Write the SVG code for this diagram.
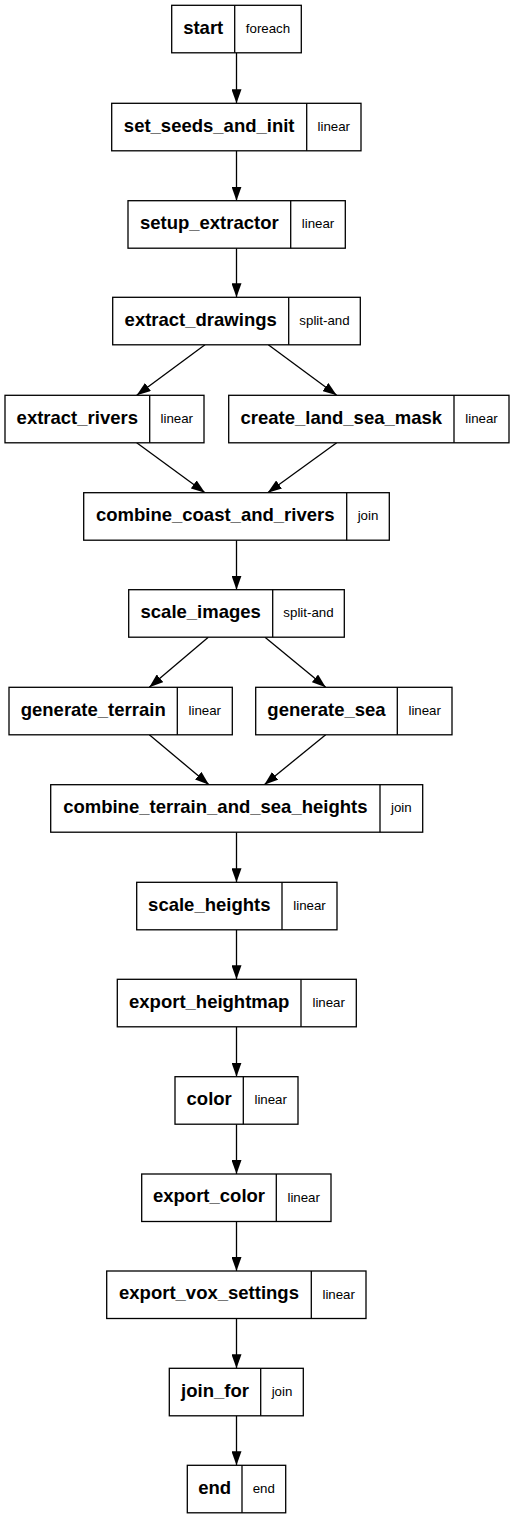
<svg xmlns="http://www.w3.org/2000/svg" width="514" height="1520" viewBox="0 0 514 1520">
<defs>
<style>
.box{fill:#fff;stroke:#000;stroke-width:1.3}
.div{stroke:#000;stroke-width:1.3}
.n{font-family:"Liberation Sans",Arial,sans-serif;font-weight:bold;font-size:18.5px;text-anchor:middle;fill:#000}
.t{font-family:"Liberation Sans",Arial,sans-serif;font-size:13.3px;text-anchor:middle;fill:#000}
.e{fill:none;stroke:#000;stroke-width:1.3}
</style>
<marker id="ah" viewBox="0 0 14 10" refX="14" refY="5" markerWidth="14" markerHeight="10" markerUnits="userSpaceOnUse" orient="auto">
<path d="M0,0 L14,5 L0,10 z" fill="#000"/>
</marker>
</defs>
<rect width="514" height="1520" fill="#fff"/>
<g id="edges">
<line class="e" x1="236.5" y1="52.8" x2="236.5" y2="103.3" marker-end="url(#ah)"/>
<line class="e" x1="236.5" y1="150.8" x2="236.5" y2="200.7" marker-end="url(#ah)"/>
<line class="e" x1="236.5" y1="248.2" x2="236.5" y2="297.3" marker-end="url(#ah)"/>
<line class="e" x1="205" y1="344.8" x2="136.7" y2="395.3" marker-end="url(#ah)"/>
<line class="e" x1="268.3" y1="344.8" x2="336.7" y2="395.3" marker-end="url(#ah)"/>
<line class="e" x1="136.7" y1="442.8" x2="205" y2="492.7" marker-end="url(#ah)"/>
<line class="e" x1="336.7" y1="442.8" x2="267.7" y2="492.7" marker-end="url(#ah)"/>
<line class="e" x1="236.5" y1="540.2" x2="236.5" y2="589.7" marker-end="url(#ah)"/>
<line class="e" x1="208.3" y1="637.2" x2="149.3" y2="687.3" marker-end="url(#ah)"/>
<line class="e" x1="265" y1="637.2" x2="325.7" y2="687.3" marker-end="url(#ah)"/>
<line class="e" x1="149.3" y1="734.8" x2="209" y2="784.7" marker-end="url(#ah)"/>
<line class="e" x1="325.7" y1="734.8" x2="264.3" y2="784.7" marker-end="url(#ah)"/>
<line class="e" x1="236.5" y1="832.2" x2="236.5" y2="882.3" marker-end="url(#ah)"/>
<line class="e" x1="236.5" y1="929.8" x2="236.5" y2="979.3" marker-end="url(#ah)"/>
<line class="e" x1="236.5" y1="1026.8" x2="236.5" y2="1076.7" marker-end="url(#ah)"/>
<line class="e" x1="236.5" y1="1124.2" x2="236.5" y2="1174" marker-end="url(#ah)"/>
<line class="e" x1="236.5" y1="1221.5" x2="236.5" y2="1271" marker-end="url(#ah)"/>
<line class="e" x1="236.5" y1="1318.5" x2="236.5" y2="1368.3" marker-end="url(#ah)"/>
<line class="e" x1="236.5" y1="1415.8" x2="236.5" y2="1465.3" marker-end="url(#ah)"/>
</g>
<g id="start"><rect class="box" x="171.7" y="5.3" width="129.6" height="47.5"/><line class="div" x1="234.7" y1="5.3" x2="234.7" y2="52.8"/><text class="n" x="203.2" y="33.5">start</text><text class="t" x="268" y="33">foreach</text></g>
<g id="set_seeds_and_init"><rect class="box" x="111.7" y="103.3" width="249.3" height="47.5"/><line class="div" x1="306.7" y1="103.3" x2="306.7" y2="150.8"/><text class="n" x="209.2" y="131.5">set_seeds_and_init</text><text class="t" x="333.8" y="131">linear</text></g>
<g id="setup_extractor"><rect class="box" x="128" y="200.7" width="217.3" height="47.5"/><line class="div" x1="290.7" y1="200.7" x2="290.7" y2="248.2"/><text class="n" x="209.3" y="228.9">setup_extractor</text><text class="t" x="318" y="228.4">linear</text></g>
<g id="extract_drawings"><rect class="box" x="112.7" y="297.3" width="247.6" height="47.5"/><line class="div" x1="288.7" y1="297.3" x2="288.7" y2="344.8"/><text class="n" x="200.7" y="325.5">extract_drawings</text><text class="t" x="324.5" y="325">split-and</text></g>
<g id="extract_rivers"><rect class="box" x="5" y="395.3" width="199" height="47.5"/><line class="div" x1="149.7" y1="395.3" x2="149.7" y2="442.8"/><text class="n" x="77.3" y="423.5">extract_rivers</text><text class="t" x="176.8" y="423">linear</text></g>
<g id="create_land_sea_mask"><rect class="box" x="228.7" y="395.3" width="280.3" height="47.5"/><line class="div" x1="454" y1="395.3" x2="454" y2="442.8"/><text class="n" x="341.3" y="423.5">create_land_sea_mask</text><text class="t" x="481.5" y="423">linear</text></g>
<g id="combine_coast_and_rivers"><rect class="box" x="83.7" y="492.7" width="305.6" height="47.5"/><line class="div" x1="346.7" y1="492.7" x2="346.7" y2="540.2"/><text class="n" x="215.2" y="520.9">combine_coast_and_rivers</text><text class="t" x="368" y="520.4">join</text></g>
<g id="scale_images"><rect class="box" x="128.7" y="589.7" width="215.6" height="47.5"/><line class="div" x1="272.7" y1="589.7" x2="272.7" y2="637.2"/><text class="n" x="200.7" y="617.9">scale_images</text><text class="t" x="308.5" y="617.4">split-and</text></g>
<g id="generate_terrain"><rect class="box" x="9" y="687.3" width="223.3" height="47.5"/><line class="div" x1="177.3" y1="687.3" x2="177.3" y2="734.8"/><text class="n" x="93.2" y="715.5">generate_terrain</text><text class="t" x="204.8" y="715">linear</text></g>
<g id="generate_sea"><rect class="box" x="255.7" y="687.3" width="196.3" height="47.5"/><line class="div" x1="397.3" y1="687.3" x2="397.3" y2="734.8"/><text class="n" x="326.5" y="715.5">generate_sea</text><text class="t" x="424.7" y="715">linear</text></g>
<g id="combine_terrain_and_sea_heights"><rect class="box" x="50.7" y="784.7" width="372" height="47.5"/><line class="div" x1="380" y1="784.7" x2="380" y2="832.2"/><text class="n" x="215.3" y="812.9">combine_terrain_and_sea_heights</text><text class="t" x="401.3" y="812.4">join</text></g>
<g id="scale_heights"><rect class="box" x="136.7" y="882.3" width="200.3" height="47.5"/><line class="div" x1="282" y1="882.3" x2="282" y2="929.8"/><text class="n" x="209.3" y="910.5">scale_heights</text><text class="t" x="309.5" y="910">linear</text></g>
<g id="export_heightmap"><rect class="box" x="117.3" y="979.3" width="239" height="47.5"/><line class="div" x1="301" y1="979.3" x2="301" y2="1026.8"/><text class="n" x="209.2" y="1007.5">export_heightmap</text><text class="t" x="328.7" y="1007">linear</text></g>
<g id="color"><rect class="box" x="175" y="1076.7" width="123" height="47.5"/><line class="div" x1="243.3" y1="1076.7" x2="243.3" y2="1124.2"/><text class="n" x="209.2" y="1104.9">color</text><text class="t" x="270.7" y="1104.4">linear</text></g>
<g id="export_color"><rect class="box" x="141.7" y="1174" width="189.3" height="47.5"/><line class="div" x1="276.3" y1="1174" x2="276.3" y2="1221.5"/><text class="n" x="209" y="1202.2">export_color</text><text class="t" x="303.7" y="1201.7">linear</text></g>
<g id="export_vox_settings"><rect class="box" x="106.7" y="1271" width="259.3" height="47.5"/><line class="div" x1="311.3" y1="1271" x2="311.3" y2="1318.5"/><text class="n" x="209" y="1299.2">export_vox_settings</text><text class="t" x="338.7" y="1298.7">linear</text></g>
<g id="join_for"><rect class="box" x="169.3" y="1368.3" width="134" height="47.5"/><line class="div" x1="260.7" y1="1368.3" x2="260.7" y2="1415.8"/><text class="n" x="215" y="1396.5">join_for</text><text class="t" x="282" y="1396">join</text></g>
<g id="end"><rect class="box" x="187.3" y="1465.3" width="98.4" height="47.5"/><line class="div" x1="242" y1="1465.3" x2="242" y2="1512.8"/><text class="n" x="214.7" y="1493.5">end</text><text class="t" x="263.8" y="1493">end</text></g>
</svg>
